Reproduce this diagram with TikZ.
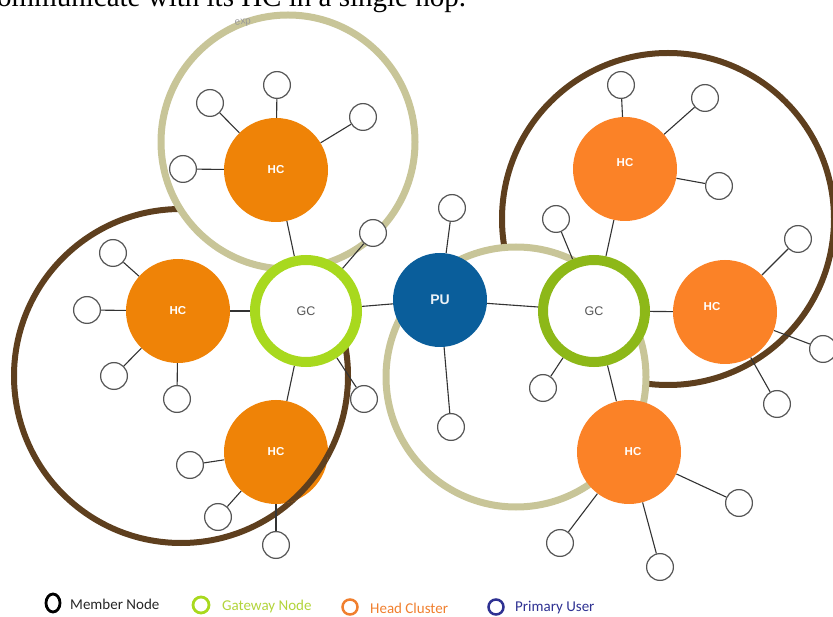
\documentclass[tikz,border=0pt]{standalone}
\usepackage{fontspec}
\setmainfont{Liberation Serif}
\newfontfamily\labfont{Liberation Sans}
\newfontfamily\legfont{Carlito}
\usetikzlibrary{backgrounds,shapes.geometric}
\definecolor{tanc}{HTML}{C8C598}
\definecolor{brownc}{HTML}{5E3F1E}
\definecolor{greenL}{HTML}{A8D91E}
\definecolor{greenR}{HTML}{8DB818}
\definecolor{orL}{HTML}{EF8307}
\definecolor{orR}{HTML}{FB8227}
\definecolor{puc}{HTML}{0A5E9B}
\definecolor{memc}{HTML}{555555}
\definecolor{linkc}{HTML}{333333}
\definecolor{gctext}{HTML}{555555}
\definecolor{legG}{HTML}{B2D43A}
\definecolor{legO}{HTML}{F07F2E}
\definecolor{legB}{HTML}{2E3192}
\begin{document}
\begin{tikzpicture}[x=1pt,y=-1pt,
  member/.style={circle,draw=memc,line width=1.2pt,fill=white,minimum size=26.8pt,inner sep=0pt},
  hcbase/.style={circle,minimum size=104pt,inner sep=0pt,text=white,font=\labfont\bfseries\fontsize{11.5}{12}\selectfont},
  hcl/.style={hcbase,fill=orL},
  hcr/.style={hcbase,fill=orR},
  gcbase/.style={circle,fill=white,line width=10pt,minimum size=102pt,inner sep=0pt,text=gctext,font=\labfont\fontsize{12.5}{13}\selectfont},
  gcl/.style={gcbase,draw=greenL},
  gcr/.style={gcbase,draw=greenR},
  pustyle/.style={circle,fill=puc,minimum size=94pt,inner sep=0pt,text=white!92!puc,font=\labfont\bfseries\fontsize{14}{14}\selectfont},
  link/.style={draw=linkc,line width=1.1pt},
  tanring/.style={draw=tanc,line width=7pt},
  brownring/.style={draw=brownc,line width=6pt},
  legtext/.style={anchor=west,inner sep=0pt,font=\legfont\fontsize{15}{15}\selectfont},
  hclabel/.style={inner sep=0pt,text=white,font=\labfont\bfseries\fontsize{11.5}{12}\selectfont}
]
\useasboundingbox (0,0) rectangle (833,617);
\clip (0,0) rectangle (833,617);

% ring centres
\coordinate (cTL) at (288,142);
\coordinate (cBL) at (181,376);
\coordinate (cTR) at (668,219);
\coordinate (cMID) at (516,377);

% main nodes
\node[gcl] (gcL) at (306,311) {GC};
\node[gcr] (gcR) at (594,311) {GC};
\node[pustyle] (pu) at (440,300) {PU};
\node[hcl] (hcA) at (276,170) {HC};
\node[hcl] (hcB) at (178,311) {HC};
\node[hcl] (hcC) at (276,452) {HC};
\node[hcr] (hcD) at (625,169) {};
\node[hclabel] (hcDl) at (625,163) {HC};
\node[hcr] (hcE) at (725,312) {};
\node[hclabel] (hcEl) at (712,307) {HC};
\node[hcr] (hcF) at (629,452) {};
\node[hclabel] (hcFl) at (633,452) {HC};

% member nodes
\node[member] (mA1) at (210,103) {};
\node[member] (mA2) at (277,85) {};
\node[member] (mA3) at (363,117) {};
\node[member] (mA4) at (183,169) {};
\node[member] (mB1) at (113,253) {};
\node[member] (mB2) at (87,310) {};
\node[member] (mB3) at (114,376) {};
\node[member] (mB4) at (177,399) {};
\node[member] (mC1) at (190,465) {};
\node[member] (mC2) at (218,517) {};
\node[member] (mC3) at (276,545) {};
\node[member] (mG1) at (373,233) {};
\node[member] (mG2) at (364,399) {};
\node[member] (mP1) at (452,208) {};
\node[member] (mP2) at (451,427) {};
\node[member] (mH1) at (556,219) {};
\node[member] (mH2) at (543,388) {};
\node[member] (mD1) at (621,85) {};
\node[member] (mD2) at (705,98) {};
\node[member] (mD3) at (719,186) {};
\node[member] (mE1) at (798,239) {};
\node[member] (mE2) at (823,349) {};
\node[member] (mE3) at (777,404) {};
\node[member] (mF1) at (739,503) {};
\node[member] (mF2) at (560,543) {};
\node[member] (mF3) at (660,567) {};

% brown rings passing over head clusters
\begin{scope}
  \clip (hcC.center) circle (52pt);
  \draw[brownring] (cBL) circle (167pt);
\end{scope}
\begin{scope}
  \clip (hcE.center) circle (52pt);
  \draw[brownring] (cTR) circle (166pt);
\end{scope}

\begin{pgfonlayer}{background}
  \draw[brownring] (cBL) circle (167pt);
  \draw[tanring,fill=white] (cTL) circle (127pt);
  \draw[brownring] (cTR) circle (166pt);
  \draw[tanring,fill=white] (cMID) circle (130pt);
  % links
  \foreach \m in {mA1,mA2,mA3,mA4} \draw[link] (hcA) -- (\m);
  \foreach \m in {mB1,mB2,mB3,mB4} \draw[link] (hcB) -- (\m);
  \foreach \m in {mC1,mC2,mC3} \draw[link] (hcC) -- (\m);
  \foreach \m in {mD1,mD2,mD3} \draw[link] (hcD) -- (\m);
  \foreach \m in {mE1,mE2,mE3} \draw[link] (hcE) -- (\m);
  \foreach \m in {mF1,mF2,mF3} \draw[link] (hcF) -- (\m);
  \foreach \m in {hcA,hcB,hcC,mG1,mG2,pu} \draw[link] (gcL) -- (\m);
  \foreach \m in {hcD,hcE,hcF,mH1,mH2,pu} \draw[link] (gcR) -- (\m);
  \draw[link] (pu) -- (mP1);
  \draw[link] (pu) -- (mP2);
\end{pgfonlayer}

% cropped caption and stray text
\node[anchor=base west,inner sep=0pt] (cap) at (-3,7) {\fontsize{29}{30}\selectfont ommunicate with its HC in a single hop.};
\node[inner sep=0pt,text=black!40,font=\labfont\fontsize{10}{10}\selectfont,rotate=8] (exp) at (243,23) {exp};

% legend
\node[ellipse,draw=black,line width=2.8pt,minimum width=14pt,minimum height=18pt,inner sep=0pt] (lgM) at (53,603) {};
\node[legtext,text=black!85] (lgMt) at (70,604) {Member Node};
\node[circle,draw=greenL,line width=2.8pt,minimum size=16pt,inner sep=0pt] (lgG) at (201,605) {};
\node[legtext,text=legG] (lgGt) at (222,606) {Gateway Node};
\node[circle,draw=legO,line width=2.5pt,minimum size=15pt,inner sep=0pt] (lgO) at (350,607) {};
\node[legtext,text=legO] (lgOt) at (370,608) {Head Cluster};
\node[circle,draw=legB,line width=2.5pt,minimum size=15pt,inner sep=0pt] (lgB) at (496,607) {};
\node[legtext,text=legB] (lgBt) at (515,608) {Primary User};
\end{tikzpicture}
\end{document}
